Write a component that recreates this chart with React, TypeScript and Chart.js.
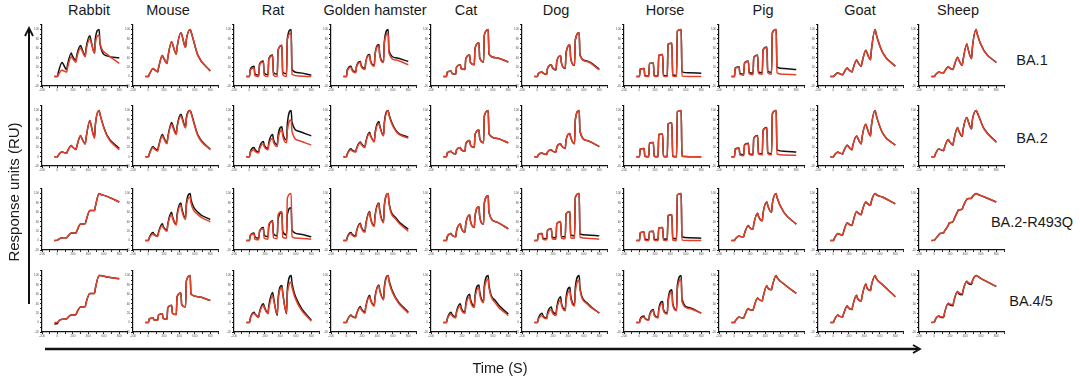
import React, { useEffect, useRef } from "react";
import { Chart, registerables } from "chart.js";
Chart.register(...registerables);

// ---------- labels ----------
const ANIMALS = ["Rabbit", "Mouse", "Rat", "Golden hamster", "Cat", "Dog", "Horse", "Pig", "Goat", "Sheep"];
const VARIANTS = ["BA.1", "BA.2", "BA.2-R493Q", "BA.4/5"];
const X_TITLE = "Time (S)";
const Y_TITLE = "Response units (RU)";

// sample times (s) shared by every sensorgram
const TIMES = [-40, 0, 10, 60, 70, 120, 130, 180, 190, 240, 250, 300, 310, 360, 370, 420, 430, 480, 490, 540, 550, 640, 800];

// ---------- data (normalized response) ----------
// order of panels in each array follows ANIMALS; null = black trace overlaps red
const BA1_FIT = [
  [0, 0, 3, 14, 13, 10, 18, 42, 40, 30, 40, 60, 58, 42, 55, 80, 76, 50, 70, 88, 72, 48, 28],
  [0, 0, 4, 17, 16, 10, 18, 45, 42, 28, 40, 74, 70, 48, 62, 93, 90, 62, 78, 100, 96, 45, 12],
  [0, 0, 14, 18, 2, 0, 25, 31, 3, 0, 36, 44, 3, 0, 55, 67, 4, 0, 78, 92, 5, 1, 0],
  [0, 0, 12, 20, 14, 8, 20, 30, 22, 15, 30, 45, 33, 22, 45, 65, 45, 30, 70, 92, 50, 35, 25],
  [0, 0, 9, 12, 7, 5, 20, 25, 17, 15, 38, 46, 30, 25, 60, 72, 40, 31, 88, 100, 48, 40, 31],
  [0, 0, 6, 10, 8, 5, 17, 25, 20, 15, 32, 44, 30, 18, 50, 67, 40, 25, 78, 93, 45, 32, 14],
  [0, 0, 16, 17, 1, 0, 28, 29, 1, 0, 45, 47, 1, 0, 69, 71, 1, 0, 97, 100, 1, 0, 0],
  [0, 0, 17, 20, 5, 3, 28, 32, 6, 4, 40, 45, 7, 5, 56, 62, 8, 5, 92, 100, 8, 5, 4],
  [0, 0, 2, 8, 7, 4, 7, 18, 16, 10, 15, 35, 32, 22, 30, 56, 52, 36, 55, 100, 92, 50, 22],
  [0, 0, 3, 10, 9, 8, 11, 21, 19, 15, 20, 41, 37, 24, 35, 69, 62, 38, 60, 100, 92, 55, 30],
];
const BA1_RAW = [
  [0, 0, 8, 30, 28, 15, 25, 50, 45, 35, 45, 66, 62, 45, 60, 87, 80, 50, 80, 100, 70, 44, 40],
  null,
  [0, 0, 15, 22, 6, 3, 26, 33, 8, 4, 38, 46, 9, 5, 56, 66, 10, 6, 80, 100, 15, 8, 3],
  [0, 0, 14, 22, 16, 10, 22, 32, 24, 17, 32, 47, 35, 24, 48, 68, 48, 32, 74, 100, 55, 40, 32],
  null,
  [0, 0, 6, 10, 8, 5, 17, 25, 20, 14, 32, 44, 29, 17, 50, 67, 39, 24, 78, 93, 46, 33, 16],
  [0, 0, 16, 17, 2, 1, 28, 29, 2, 1, 45, 47, 3, 1, 69, 71, 4, 2, 97, 100, 10, 8, 7],
  [0, 0, 18, 21, 7, 5, 29, 33, 9, 7, 41, 46, 10, 8, 57, 63, 12, 9, 93, 100, 20, 17, 15],
  null,
  null,
];

const BA2_FIT = [
  [0, 0, 3, 11, 10, 8, 12, 24, 22, 15, 22, 46, 42, 27, 40, 78, 72, 40, 68, 100, 92, 45, 15],
  [0, 0, 5, 20, 18, 12, 20, 45, 42, 28, 40, 70, 66, 48, 62, 88, 84, 62, 80, 100, 95, 45, 15],
  [0, 0, 8, 15, 12, 8, 16, 28, 22, 15, 25, 40, 32, 22, 38, 58, 45, 30, 55, 80, 55, 35, 25],
  [0, 0, 5, 15, 13, 10, 16, 30, 27, 20, 30, 50, 45, 32, 48, 72, 65, 45, 70, 100, 90, 55, 40],
  [0, 0, 8, 12, 9, 6, 15, 20, 15, 12, 28, 35, 26, 20, 48, 58, 40, 30, 88, 100, 50, 40, 30],
  [0, 0, 4, 8, 7, 5, 10, 15, 13, 10, 20, 28, 24, 18, 36, 50, 42, 28, 80, 100, 55, 35, 22],
  [0, 0, 17, 18, 1, 0, 30, 31, 1, 0, 48, 49, 1, 0, 71, 73, 1, 0, 97, 100, 1, 0, 0],
  [0, 0, 16, 18, 4, 2, 25, 28, 5, 3, 40, 45, 6, 4, 56, 62, 7, 4, 92, 100, 6, 4, 3],
  [0, 0, 3, 10, 9, 6, 11, 25, 23, 15, 24, 45, 42, 28, 42, 70, 65, 45, 65, 100, 92, 50, 25],
  [0, 0, 5, 17, 16, 14, 20, 37, 34, 26, 35, 63, 58, 45, 58, 85, 80, 61, 78, 100, 97, 60, 31],
];
const BA2_RAW = [
  [0, 0, 3, 11, 10, 8, 12, 24, 22, 16, 22, 46, 42, 29, 40, 78, 72, 42, 68, 100, 92, 47, 18],
  [0, 0, 6, 22, 20, 14, 22, 48, 45, 30, 42, 74, 70, 50, 65, 92, 88, 64, 84, 100, 96, 47, 16],
  [0, 0, 10, 20, 16, 10, 20, 33, 26, 18, 30, 48, 38, 26, 45, 65, 52, 36, 70, 100, 75, 55, 45],
  [0, 0, 6, 17, 15, 11, 18, 32, 29, 21, 32, 53, 47, 33, 51, 76, 68, 46, 74, 100, 92, 57, 42],
  null,
  null,
  null,
  [0, 0, 17, 19, 6, 4, 26, 29, 7, 5, 41, 46, 8, 6, 57, 63, 9, 6, 93, 100, 15, 12, 10],
  null,
  [0, 0, 5, 17, 16, 13, 20, 37, 34, 25, 35, 63, 58, 44, 58, 85, 80, 60, 78, 100, 97, 61, 32],
];

const R493Q_FIT = [
  [0, 1, 2, 6, 6, 6, 8, 16, 16, 16, 20, 35, 35, 36, 42, 64, 64, 64, 72, 100, 99, 94, 82],
  [0, 0, 5, 14, 12, 9, 16, 32, 28, 20, 32, 55, 48, 33, 50, 75, 65, 45, 72, 92, 80, 55, 40],
  [0, 0, 12, 14, 3, 2, 22, 25, 5, 3, 35, 40, 6, 4, 55, 62, 7, 5, 90, 100, 8, 5, 3],
  [0, 0, 6, 15, 12, 8, 18, 35, 28, 18, 32, 60, 48, 30, 50, 78, 62, 38, 72, 100, 80, 45, 20],
  [0, 0, 8, 15, 12, 8, 20, 35, 28, 18, 35, 55, 42, 28, 52, 72, 52, 35, 80, 95, 60, 40, 25],
  [0, 0, 13, 15, 3, 2, 22, 25, 4, 3, 36, 40, 5, 4, 57, 62, 6, 5, 92, 100, 7, 5, 3],
  [0, 0, 17, 18, 1, 0, 19, 20, 1, 0, 27, 28, 1, 0, 53, 55, 1, 0, 97, 100, 1, 0, 0],
  [0, 0, 3, 10, 9, 8, 15, 32, 29, 24, 35, 58, 52, 42, 58, 82, 75, 60, 78, 100, 92, 60, 35],
  [0, 0, 4, 15, 14, 12, 18, 38, 36, 32, 38, 62, 60, 55, 62, 82, 80, 75, 83, 100, 98, 92, 78],
  [0, 1, 3, 13, 15, 17, 20, 33, 37, 40, 44, 62, 65, 67, 72, 88, 89, 90, 93, 100, 99, 93, 82],
];
const R493Q_RAW = [
  null,
  [0, 0, 6, 17, 14, 10, 18, 36, 31, 22, 35, 60, 52, 35, 55, 80, 70, 48, 78, 100, 88, 60, 45],
  [0, 0, 10, 16, 8, 5, 18, 28, 12, 8, 30, 42, 15, 10, 45, 60, 20, 12, 55, 70, 22, 14, 8],
  [0, 0, 7, 17, 14, 10, 20, 37, 30, 20, 35, 62, 50, 32, 53, 80, 65, 40, 75, 100, 82, 48, 24],
  null,
  [0, 0, 13, 15, 5, 4, 22, 25, 7, 6, 36, 40, 9, 8, 57, 62, 12, 10, 92, 100, 14, 12, 10],
  [0, 0, 17, 18, 3, 2, 19, 20, 3, 2, 27, 28, 4, 3, 53, 55, 5, 4, 97, 100, 8, 6, 5],
  null,
  null,
  null,
];

const BA45_FIT = [
  [0, 0, 2, 7, 7, 8, 10, 16, 16, 17, 21, 33, 33, 34, 42, 62, 62, 62, 72, 100, 100, 97, 93],
  [0, 0, 8, 10, 6, 5, 16, 19, 9, 7, 32, 37, 20, 17, 55, 63, 38, 33, 88, 100, 60, 55, 47],
  [0, 0, 8, 20, 18, 11, 20, 37, 32, 19, 30, 57, 50, 18, 45, 75, 62, 21, 60, 86, 75, 35, 3],
  [0, 0, 5, 15, 13, 10, 17, 32, 28, 20, 32, 55, 48, 35, 52, 78, 68, 48, 72, 100, 88, 50, 20],
  [0, 0, 7, 18, 15, 10, 20, 35, 28, 20, 35, 55, 45, 32, 52, 74, 60, 42, 70, 92, 75, 40, 15],
  [0, 0, 6, 15, 12, 8, 16, 28, 22, 15, 28, 48, 38, 25, 45, 68, 52, 35, 65, 90, 70, 40, 20],
  [0, 0, 6, 12, 8, 5, 14, 25, 16, 10, 25, 40, 25, 18, 42, 65, 38, 25, 70, 92, 45, 30, 20],
  [0, 0, 3, 12, 11, 10, 14, 30, 28, 26, 32, 52, 50, 46, 54, 78, 74, 70, 78, 100, 96, 82, 62],
  [0, 0, 5, 16, 14, 12, 18, 36, 32, 28, 36, 58, 52, 46, 56, 82, 75, 68, 78, 100, 95, 80, 55],
  [0, 2, 6, 14, 13, 12, 20, 41, 40, 38, 45, 66, 64, 61, 68, 88, 86, 83, 88, 100, 99, 90, 77],
];
const BA45_RAW = [
  [-3, -2, 2, 7, 7, 8, 10, 16, 16, 17, 21, 33, 33, 34, 42, 62, 62, 62, 72, 100, 100, 97, 93],
  null,
  [0, 0, 9, 22, 19, 12, 22, 40, 35, 20, 35, 64, 55, 15, 50, 79, 65, 19, 70, 100, 85, 40, 5],
  [0, 0, 5, 16, 14, 11, 18, 34, 30, 22, 34, 58, 50, 37, 55, 80, 70, 50, 75, 100, 90, 52, 22],
  [0, 0, 8, 22, 18, 12, 23, 40, 32, 22, 40, 60, 50, 35, 58, 80, 66, 45, 78, 100, 80, 45, 18],
  [0, 0, 8, 20, 15, 10, 20, 33, 26, 18, 33, 55, 42, 28, 52, 75, 58, 38, 75, 100, 75, 42, 20],
  [0, 0, 8, 14, 9, 6, 16, 28, 18, 11, 28, 45, 28, 20, 48, 70, 42, 27, 78, 100, 50, 32, 20],
  null,
  null,
  [0, 1, 6, 14, 12, 11, 20, 41, 38, 36, 45, 66, 62, 59, 68, 88, 84, 81, 88, 100, 99, 90, 77],
];

const FIT_ROWS = [BA1_FIT, BA2_FIT, R493Q_FIT, BA45_FIT];
const RAW_ROWS = [BA1_RAW, BA2_RAW, R493Q_RAW, BA45_RAW];

// ---------- layout ----------
const COL_LEFT = [42, 133, 234, 331, 431, 522, 624, 719, 818, 919];
const AXIS_W = 85;
const ROW_TOP = [24, 105, 188, 270];
const ROW_BOTTOM = [86, 166, 250, 332];
const HEADER_X = [89, 168, 273, 375, 466, 556, 665, 763, 860, 958];
const ROW_LABEL_Y = [60, 138, 222, 301];
const ROW_LABEL_X = [1032, 1032, 1032, 1031];

const Y_W = 9;
const X_H = 6;
const PAD_T = 2;
const PAD_R = 3;
const RED = "#e4412b";
const BLACK = "#111111";

function Panel({ left, top, w, h, fit, raw }: { left: number; top: number; w: number; h: number; fit: number[]; raw: number[] | null }) {
  const ref = useRef<HTMLCanvasElement>(null);
  useEffect(() => {
    const black = raw ?? fit;
    const mk = (arr: number[]) => TIMES.map((t, i) => ({ x: t, y: arr[i] }));
    const chart = new Chart(ref.current as HTMLCanvasElement, {
      type: "line",
      data: {
        datasets: [
          { data: mk(fit), borderColor: RED, borderWidth: 1.5, pointRadius: 0, cubicInterpolationMode: "monotone", fill: false, order: 0 },
          { data: mk(black), borderColor: BLACK, borderWidth: 1.5, pointRadius: 0, cubicInterpolationMode: "monotone", fill: false, order: 1 },
        ],
      },
      options: {
        animation: false,
        responsive: false,
        events: [],
        layout: { padding: { top: PAD_T, right: PAD_R, left: 0, bottom: 0 } },
        plugins: { legend: { display: false }, tooltip: { enabled: false }, title: { display: false } },
        scales: {
          x: {
            type: "linear",
            min: -200,
            max: 900,
            ticks: {
              stepSize: 100,
              autoSkip: false,
              maxRotation: 0,
              padding: 0,
              font: { size: 3 },
              color: "#555",
              callback: (v: any) => (Number(v) % 200 === 0 ? String(v) : ""),
            },
            grid: { display: true, drawOnChartArea: false, drawTicks: true, tickLength: 2, color: "#222" },
            border: { display: true, color: "#111", width: 1.2 },
            afterFit: (s: any) => {
              s.height = X_H;
            },
          },
          y: {
            type: "linear",
            min: -20,
            max: 110,
            ticks: {
              stepSize: 10,
              autoSkip: false,
              padding: 1,
              font: { size: 3 },
              color: "#555",
              callback: (v: any) => (Number(v) % 20 === 0 ? String(v) : ""),
            },
            grid: { display: true, drawOnChartArea: false, drawTicks: true, tickLength: 2, color: "#222" },
            border: { display: true, color: "#111", width: 1.2 },
            afterFit: (s: any) => {
              s.width = Y_W;
            },
          },
        },
      },
    } as any);
    return () => chart.destroy();
  }, []);
  const cw = w + Y_W + PAD_R;
  const ch = h + PAD_T + X_H;
  return (
    <canvas
      ref={ref}
      width={cw}
      height={ch}
      style={{ position: "absolute", left: left - Y_W, top: top - PAD_T, width: cw, height: ch }}
    />
  );
}

export default function App() {
  const font = '"Liberation Sans", Arial, Helvetica, sans-serif';
  return (
    <div style={{ position: "absolute", left: 0, top: 0, width: 1080, height: 383, background: "#fff", fontFamily: font, color: "#1a1a1a", overflow: "hidden" }}>
      {ANIMALS.map((a, i) => (
        <div key={a} style={{ position: "absolute", left: HEADER_X[i] - 70, width: 140, top: 1, textAlign: "center", fontSize: 14.5, lineHeight: "18px", whiteSpace: "nowrap" }}>
          {a}
        </div>
      ))}
      {VARIANTS.map((v, r) => (
        <div key={v} style={{ position: "absolute", left: ROW_LABEL_X[r] - 60, width: 120, top: ROW_LABEL_Y[r] - 9, textAlign: "center", fontSize: 14.5, lineHeight: "18px", whiteSpace: "nowrap" }}>
          {v}
        </div>
      ))}
      {FIT_ROWS.map((row, r) =>
        row.map((fit, c) => (
          <Panel key={`${r}-${c}`} left={COL_LEFT[c]} top={ROW_TOP[r]} w={AXIS_W} h={ROW_BOTTOM[r] - ROW_TOP[r]} fit={fit} raw={RAW_ROWS[r][c]} />
        ))
      )}
      <svg width={1080} height={383} style={{ position: "absolute", left: 0, top: 0, pointerEvents: "none" }}>
        <line x1={29} y1={304} x2={29} y2={30} stroke="#111" strokeWidth={2} />
        <polyline points="25,36 29,28 33,36" fill="none" stroke="#111" strokeWidth={1.8} />
        <line x1={45} y1={349} x2={918} y2={349} stroke="#111" strokeWidth={2.5} />
        <polyline points="913,345 920,349 913,353" fill="none" stroke="#111" strokeWidth={1.8} />
      </svg>
      <div style={{ position: "absolute", left: 14 - 90, top: 192 - 9, width: 180, textAlign: "center", fontSize: 15, lineHeight: "18px", transform: "rotate(-90deg)", whiteSpace: "nowrap" }}>
        {Y_TITLE}
      </div>
      <div style={{ position: "absolute", left: 500 - 60, top: 359, width: 120, textAlign: "center", fontSize: 14.5, lineHeight: "18px" }}>
        {X_TITLE}
      </div>
    </div>
  );
}
